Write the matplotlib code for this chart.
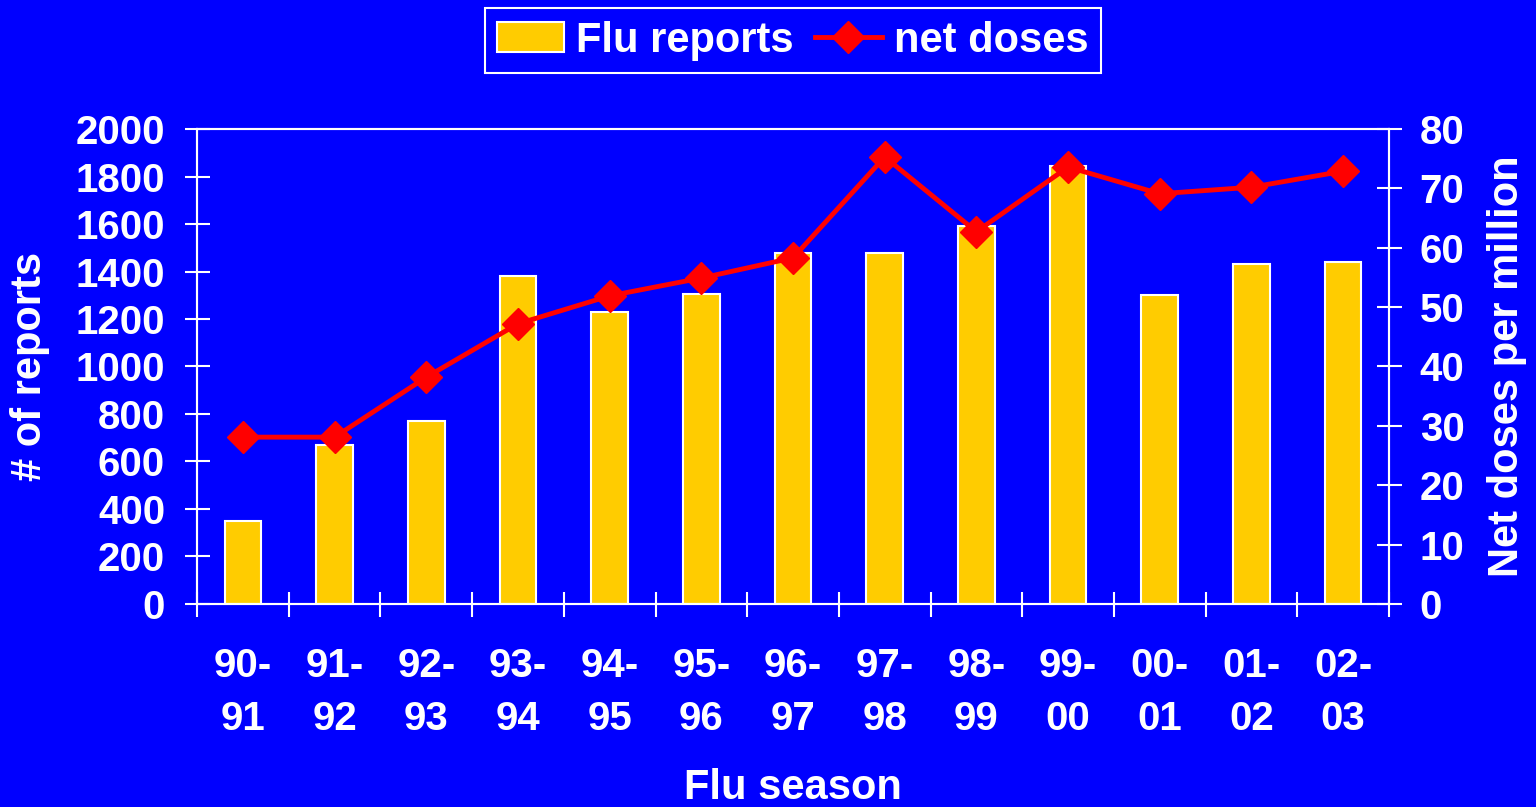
import matplotlib.pyplot as plt
import numpy as np
from matplotlib.patches import Patch
from matplotlib.lines import Line2D

plt.rcParams['font.family'] = ['Liberation Sans', 'DejaVu Sans']
plt.rcParams['font.weight'] = 'bold'

seasons = ['90-\n91', '91-\n92', '92-\n93', '93-\n94', '94-\n95', '95-\n96', '96-\n97',
           '97-\n98', '98-\n99', '99-\n00', '00-\n01', '01-\n02', '02-\n03']
flu_reports = [350, 670, 770, 1380, 1230, 1305, 1480, 1480, 1590, 1845, 1300, 1432, 1440]
net_doses = [28.1, 28.1, 38.2, 47.2, 51.9, 54.9, 58.3, 75.3, 62.7, 73.6, 69.1, 70.2, 72.9]

blue = '#0000FF'
gold = '#FFCC00'
red = '#FF0000'

fig = plt.figure(figsize=(15.36, 8.07), dpi=100, facecolor=blue)
ax = fig.add_axes([0.1283, 0.2516, 0.776, 0.5885])
ax.set_facecolor(blue)

x = np.arange(len(seasons))
ax.bar(x, flu_reports, width=0.4, color=gold, edgecolor='white', linewidth=1.5, zorder=2)
ax.set_xlim(-0.5, len(seasons) - 0.5)
ax.set_ylim(0, 2000)
ax.set_yticks(np.arange(0, 2001, 200))

ax2 = ax.twinx()
ax2.plot(x, net_doses, color=red, linewidth=3.5, marker='D', markersize=16,
         markerfacecolor=red, markeredgecolor=red)
ax2.set_ylim(0, 80)
ax2.set_yticks(np.arange(0, 81, 10))

for a in (ax, ax2):
    for s in a.spines.values():
        s.set_color('white')
        s.set_linewidth(1.5)

# boundaries get tick marks, category centres get the labels
ax.set_xticks(np.arange(-0.5, len(seasons), 1.0))
ax.set_xticklabels([])
ax.set_xticks(x, minor=True)
ax.set_xticklabels(seasons, minor=True, fontsize=29, fontweight='bold', color='white',
                   linespacing=1.5)
ax.tick_params(axis='x', which='major', direction='inout', length=18, width=1.5, color='white')
ax.tick_params(axis='x', which='minor', length=0, pad=31)

ax.tick_params(axis='y', direction='inout', length=18, width=1.5, color='white',
               labelcolor='white', labelsize=29, pad=14)
ax2.tick_params(axis='y', direction='inout', length=18, width=1.5, color='white',
                labelcolor='white', labelsize=29, pad=13)

ax.set_ylabel('# of reports', fontsize=30, fontweight='bold', color='white', va='center')
ax.yaxis.set_label_coords(-0.140, 0.5)
ax2.set_ylabel('Net doses per million', fontsize=30, fontweight='bold', color='white', va='center')
ax2.yaxis.set_label_coords(1.099, 0.5)
ax.set_xlabel('Flu season', fontsize=30, fontweight='bold', color='white', va='center')
ax.xaxis.set_label_coords(0.5, -0.387)

handles = [Patch(facecolor=gold, edgecolor='white', linewidth=1.5),
           Line2D([0], [0], color=red, linewidth=3.5, marker='D', markersize=16)]
leg = ax.legend(handles, ['Flu reports', 'net doses'], loc='upper center',
                bbox_to_anchor=(0.5, 1.2547), borderaxespad=0, ncol=2, frameon=True,
                fancybox=False, facecolor=blue, edgecolor='white', fontsize=30,
                handlelength=1.6, handleheight=0.7, columnspacing=0.5, handletextpad=0.3,
                borderpad=0.3, framealpha=1)
leg.get_frame().set_linewidth(1.5)
for t in leg.get_texts():
    t.set_color('white')
    t.set_fontweight('bold')

fig.savefig('out.png', dpi=100, facecolor=blue)
